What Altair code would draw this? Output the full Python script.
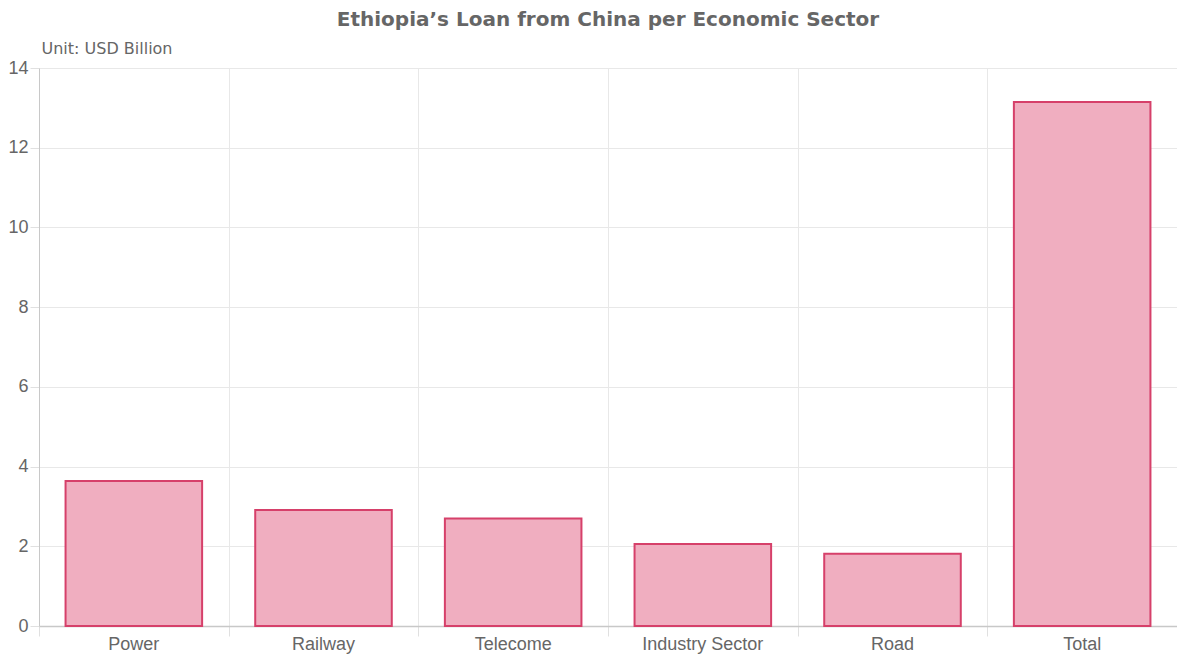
import altair as alt
import pandas as pd

sectors = ["Power", "Railway", "Telecome", "Industry Sector", "Road", "Total"]
loans = [3.64, 2.91, 2.70, 2.06, 1.81, 13.15]

df = pd.DataFrame({"sector": sectors, "loan": loans})

W = 1138
P_IN, P_OUT = 0.28, 0.14
step = W / (len(sectors) - P_IN + 2 * P_OUT)
half_gap = step * P_IN / 2

xscale = alt.Scale(domain=sectors, paddingInner=P_IN, paddingOuter=P_OUT)
yscale = alt.Scale(domain=[0, 14], nice=False)

bars = alt.Chart(df).mark_bar(
    fill="#f0aec0", stroke="#d6406a", strokeWidth=2
).encode(
    x=alt.X("sector:N", scale=xscale, sort=sectors,
            axis=alt.Axis(orient="bottom", title=None, labelAngle=0,
                          labelFont="Liberation Sans",
                          labelFontSize=18, labelColor="#666666", labelPadding=9,
                          ticks=False, grid=False, domainColor="#c8c8c8",
                          domainWidth=1.5)),
    y=alt.Y("loan:Q", scale=yscale,
            axis=alt.Axis(values=list(range(0, 15, 2)), title="Unit: USD Billion",
                          titleAngle=0, titleX=2, titleY=-15, titleAlign="left",
                          titleBaseline="alphabetic", titleFont="DejaVu Sans",
                          titleFontSize=16, titleFontWeight="normal",
                          titleColor="#666666",
                          labelFont="Liberation Sans", labelFontSize=18,
                          labelColor="#666666", labelPadding=2,
                          tickColor="#e0e0e0", tickSize=9,
                          gridColor="#e8e8e8", domainColor="#c8c8c8")),
)

grid = alt.Chart(df).mark_rule(opacity=0).encode(
    x=alt.X("sector:N", scale=xscale, sort=sectors,
            axis=alt.Axis(orient="bottom", title=None, labels=False, domain=False,
                          grid=True, bandPosition=0, tickOffset=-half_gap,
                          gridColor="#e8e8e8", ticks=True,
                          tickColor="#e0e0e0", tickSize=10)),
    y=alt.value(0),
)

chart = alt.layer(grid, bars).resolve_axis(x="independent").properties(
    width=W, height=558,
    autosize=alt.AutoSizeParams(type="none"),
    padding={"left": 31, "top": 60, "right": 0, "bottom": 30},
    title=alt.TitleParams("Ethiopia\u2019s Loan from China per Economic Sector",
                          font="DejaVu Sans", fontSize=20, fontWeight="bold",
                          color="#666666", anchor="middle", offset=10),
).configure_view(stroke=None)

chart.save("out.html", embed_options={"renderer": "svg", "actions": False})
